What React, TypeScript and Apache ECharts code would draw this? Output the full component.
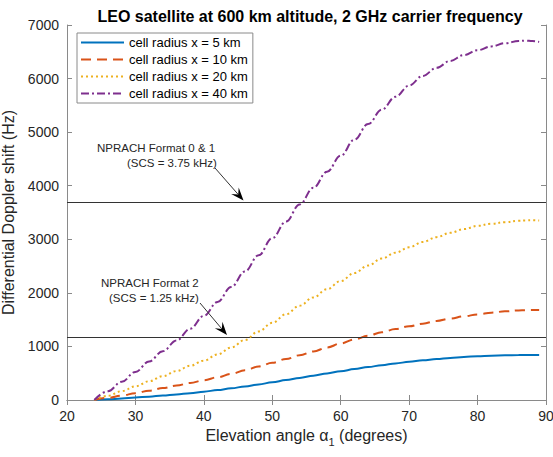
import React, { useEffect, useRef } from "react";
import * as echarts from "echarts";

// Elevation angle α1 (degrees)
const ANGLES = [24, 26, 28, 30, 32, 34, 36, 38, 40, 42, 44, 46, 48, 50, 52, 54, 56, 58, 60, 62, 64, 66, 68, 70, 72, 74, 76, 78, 80, 82, 84, 86, 87, 88, 89];
// Differential Doppler shift (Hz)
const DOPPLER_5KM = [0, 12, 28, 45, 63, 82, 103, 127, 155, 185, 218, 253, 290, 330, 372, 413, 455, 497, 537, 577, 615, 650, 683, 713, 740, 765, 786, 804, 818, 828, 834, 838, 839, 839, 838];
const DOPPLER_10KM = [0, 40, 82, 127, 175, 222, 270, 318, 368, 425, 487, 555, 625, 695, 765, 835, 905, 980, 1055, 1130, 1200, 1265, 1325, 1375, 1425, 1475, 1520, 1562, 1598, 1630, 1655, 1672, 1677, 1680, 1678];
const DOPPLER_20KM = [0, 80, 165, 255, 350, 445, 540, 640, 735, 850, 980, 1120, 1280, 1440, 1600, 1760, 1915, 2068, 2220, 2370, 2510, 2640, 2750, 2850, 2950, 3040, 3120, 3190, 3250, 3290, 3320, 3345, 3352, 3355, 3350];
const DOPPLER_40KM = [0, 165, 340, 525, 720, 910, 1110, 1330, 1570, 1830, 2110, 2400, 2700, 3020, 3330, 3650, 3960, 4260, 4560, 4860, 5150, 5420, 5660, 5870, 6050, 6200, 6330, 6440, 6530, 6600, 6660, 6700, 6708, 6700, 6685];

const SERIES_NAMES = ["cell radius x = 5 km", "cell radius x = 10 km", "cell radius x = 20 km", "cell radius x = 40 km"];
const THRESHOLDS = [3690, 1170];
const TITLE = "LEO satellite at 600 km altitude, 2 GHz carrier frequency";
const X_NAME = "Elevation angle α";
const Y_NAME = "Differential Doppler shift (Hz)";
const ANNOT_1 = ["NPRACH Format 0 & 1", "(SCS = 3.75 kHz)"];
const ANNOT_2 = ["NPRACH Format 2", "(SCS = 1.25 kHz)"];

const FONT = "'Liberation Sans', Arial, Helvetica, sans-serif";
const AXIS_COLOR = "#8a8a8a";
const TEXT_COLOR = "#262626";

function arrow(x1: number, y1: number, x2: number, y2: number): any[] {
  const dx = x2 - x1;
  const dy = y2 - y1;
  const len = Math.sqrt(dx * dx + dy * dy);
  const ux = dx / len;
  const uy = dy / len;
  const px = -uy;
  const py = ux;
  const L = 13;
  const W = 5;
  const N = 8;
  const bx = x2 - ux * L;
  const by = y2 - uy * L;
  const nx = x2 - ux * N;
  const ny = y2 - uy * N;
  return [
    {
      type: "line",
      shape: { x1, y1, x2: nx, y2: ny },
      style: { stroke: "#333", lineWidth: 1 },
      silent: true,
      z: 10,
    },
    {
      type: "polygon",
      shape: {
        points: [
          [x2, y2],
          [bx + px * W, by + py * W],
          [nx, ny],
          [bx - px * W, by - py * W],
        ],
      },
      style: { fill: "#000" },
      silent: true,
      z: 10,
    },
  ];
}

function annotText(text: string, x: number, y: number): any {
  return {
    type: "text",
    x,
    y,
    silent: true,
    z: 10,
    style: {
      text,
      fill: TEXT_COLOR,
      fontSize: 11.5,
      fontFamily: FONT,
      align: "left",
      verticalAlign: "middle",
    },
  };
}

export default function App() {
  const ref = useRef<HTMLDivElement>(null);

  useEffect(() => {
    document.body.style.margin = "0";
    document.body.style.overflow = "hidden";
    if (!ref.current) return;
    const chart = echarts.init(ref.current, null, { renderer: "svg" });

    const colors = ["#0072BD", "#D95319", "#EDB120", "#7E2F8E"];
    const dashes: any[] = ["solid", [10, 6], [2, 3], [8, 3, 2, 3]];
    const values = [DOPPLER_5KM, DOPPLER_10KM, DOPPLER_20KM, DOPPLER_40KM];

    const series: any[] = values.map((vals, k) => ({
      type: "line",
      name: SERIES_NAMES[k],
      data: ANGLES.map((a, i) => [a, vals[i]]),
      xAxisIndex: 0,
      yAxisIndex: 0,
      symbol: "none",
      smooth: 0.4,
      smoothMonotone: "x",
      itemStyle: { color: colors[k] },
      lineStyle: { color: colors[k], width: 2, type: dashes[k], cap: "butt" },
      emphasis: { disabled: true },
      z: 3 + k,
    }));

    series[0].markLine = {
      silent: true,
      symbol: ["none", "none"],
      label: { show: false },
      lineStyle: { color: "#333", width: 1, type: "solid" },
      emphasis: { disabled: true },
      data: THRESHOLDS.map((v) => ({ yAxis: v })),
    };

    const axisCommon = {
      axisLine: { show: true, lineStyle: { color: AXIS_COLOR, width: 1 } },
      axisTick: { show: true, inside: true, length: 5, lineStyle: { color: AXIS_COLOR } },
      splitLine: { show: false },
    };

    const option: any = {
      animation: false,
      backgroundColor: "#fff",
      title: {
        text: TITLE,
        left: 305,
        textAlign: "center",
        top: 3,
        textStyle: { fontSize: 16, fontWeight: "bold", color: "#000", fontFamily: FONT },
      },
      legend: {
        data: SERIES_NAMES,
        orient: "vertical",
        left: 77,
        top: 33,
        itemWidth: 43,
        itemHeight: 14,
        itemGap: 4,
        padding: [3, 5, 3, 3],
        borderColor: AXIS_COLOR,
        borderWidth: 1,
        backgroundColor: "#fff",
        selectedMode: false,
        itemStyle: { color: "rgba(0,0,0,0)", borderWidth: 0, opacity: 0 },
        textStyle: { fontSize: 13, color: "#000", fontFamily: FONT },
        z: 20,
      },
      grid: { left: 67, right: 7, top: 25, bottom: 57, containLabel: false, outerBoundsMode: "none" },
      xAxis: [
        {
          type: "value",
          min: 20,
          max: 90,
          interval: 10,
          position: "bottom",
          ...axisCommon,
          axisLabel: { color: TEXT_COLOR, fontSize: 14, margin: 9, fontFamily: FONT },
          name: "{a|" + X_NAME + "}{s|1}{a| (degrees)}",
          nameLocation: "middle",
          nameGap: 26,
          nameTextStyle: {
            color: TEXT_COLOR,
            fontFamily: FONT,
            rich: {
              a: { fontSize: 16, color: TEXT_COLOR, fontFamily: FONT, lineHeight: 20, verticalAlign: "top" },
              s: { fontSize: 11, color: TEXT_COLOR, fontFamily: FONT, lineHeight: 20, verticalAlign: "top", padding: [9, 0, 0, 0] },
            },
          },
        },
        {
          type: "value",
          min: 20,
          max: 90,
          interval: 10,
          position: "top",
          ...axisCommon,
          axisLabel: { show: false },
        },
      ],
      yAxis: [
        {
          type: "value",
          min: 0,
          max: 7000,
          interval: 1000,
          position: "left",
          ...axisCommon,
          axisLabel: {
            color: TEXT_COLOR,
            fontSize: 14,
            margin: 8,
            fontFamily: FONT,
            formatter: (v: number) => String(v),
          },
          name: Y_NAME,
          nameLocation: "middle",
          nameGap: 34,
          nameTextStyle: { color: TEXT_COLOR, fontSize: 16, fontFamily: FONT },
        },
        {
          type: "value",
          min: 0,
          max: 7000,
          interval: 1000,
          position: "right",
          ...axisCommon,
          axisLabel: { show: false },
        },
      ],
      series,
      graphic: [
        annotText(ANNOT_1[0], 97, 148),
        annotText(ANNOT_1[1], 127, 163),
        annotText(ANNOT_2[0], 101, 283),
        annotText(ANNOT_2[1], 109, 298),
        ...arrow(215, 168, 243.5, 200.5),
        ...arrow(200, 303, 227, 335),
      ],
    };

    chart.setOption(option);
    return () => {
      chart.dispose();
    };
  }, []);

  return <div ref={ref} style={{ width: 553, height: 457 }} />;
}
